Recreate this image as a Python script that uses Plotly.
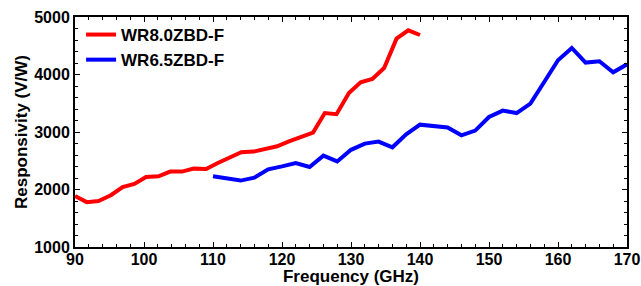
import plotly.graph_objects as go

red_freq = [90, 91.7, 93.4, 95.2, 96.9, 98.6, 100.3, 102.1, 103.8, 105.5, 107.2, 109.0,
            110.7, 112.4, 114.1, 115.9, 117.6, 119.3, 121.0, 122.8, 124.5, 126.2, 127.9,
            129.7, 131.4, 133.1, 134.8, 136.6, 138.3, 140.0]
red_resp = [1885, 1780, 1800, 1900, 2043, 2096, 2217, 2230, 2311, 2311, 2363, 2357,
            2461, 2560, 2647, 2659, 2699, 2751, 2838, 2908, 2990, 3330, 3310,
            3680, 3865, 3922, 4113, 4624, 4769, 4687]

blue_freq = [110, 112, 114, 116, 118, 120, 122, 124, 126, 128, 130, 132, 134, 136, 138,
             140, 142, 144, 146, 148, 150, 152, 154, 156, 158, 160, 162, 164, 166, 168, 170]
blue_resp = [2230, 2190, 2155, 2207, 2351, 2403, 2461, 2391, 2589, 2488, 2690, 2798, 2833,
             2734, 2960, 3128, 3111, 3077, 2943, 3025, 3261, 3372, 3330, 3494, 3870, 4247,
             4461, 4207, 4230, 4038, 4177]

red_name = "WR8.0ZBD-F"
blue_name = "WR6.5ZBD-F"
x_title = "Frequency (GHz)"
y_title = "Responsivity (V/W)"

FONT = "Arial, Liberation Sans, sans-serif"

fig = go.Figure()
fig.add_trace(go.Scatter(x=red_freq, y=red_resp, mode="lines", name=red_name,
                         line=dict(color="#ff0000", width=4)))
fig.add_trace(go.Scatter(x=blue_freq, y=blue_resp, mode="lines", name=blue_name,
                         line=dict(color="#0000ff", width=4)))

axis_common = dict(
    showline=True, linecolor="#000000", linewidth=2, mirror="allticks",
    ticks="inside", ticklen=5, tickwidth=1, tickcolor="#000000",
    showgrid=False, zeroline=False, automargin=False,
    tickfont=dict(family=FONT, size=16, color="#000000", weight="bold"),
)

fig.update_xaxes(range=[90, 170], dtick=10, tick0=90, ticklabelstandoff=-3,
                 minor=dict(ticks="inside", dtick=2, ticklen=3, tickcolor="#000000"),
                 title=dict(text=x_title, standoff=4,
                            font=dict(family=FONT, size=17, color="#000000", weight="bold")),
                 **axis_common)
fig.update_yaxes(range=[1000, 5000], dtick=1000, tick0=1000,
                 minor=dict(ticks="inside", dtick=200, ticklen=3, tickcolor="#000000"),
                 title=dict(text=y_title, standoff=2,
                            font=dict(family=FONT, size=17, color="#000000", weight="bold")),
                 **axis_common)

fig.update_layout(
    width=641, height=286,
    margin=dict(l=75, r=14, t=17, b=39),
    paper_bgcolor="white", plot_bgcolor="white",
    showlegend=True,
    legend=dict(x=0.011, y=1.0, xanchor="left", yanchor="top",
                bgcolor="rgba(0,0,0,0)", borderwidth=0,
                tracegroupgap=0, itemwidth=30,
                font=dict(family=FONT, size=17, color="#000000", weight="bold")),
)

# remove the default 8px page margin so the figure fills the window exactly
fig.write_html("out.html", config={"displayModeBar": False},
               post_script="document.body.style.margin='0px';document.body.style.overflow='hidden';")
